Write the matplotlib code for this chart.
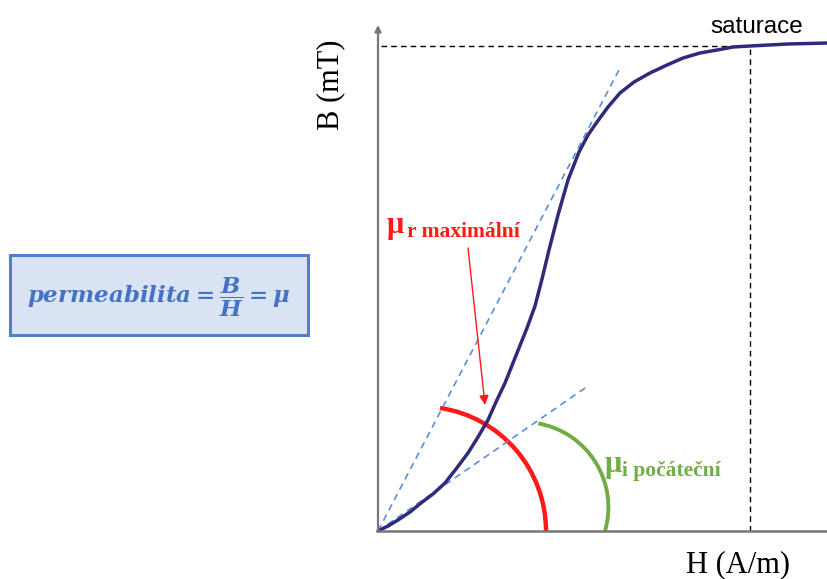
import numpy as np
import matplotlib
matplotlib.use("Agg")
import matplotlib.pyplot as plt
from matplotlib.patches import Arc, FancyBboxPatch

plt.rcParams['mathtext.fontset'] = 'custom'
plt.rcParams['mathtext.it'] = 'DejaVu Serif:italic:bold'
plt.rcParams['mathtext.rm'] = 'DejaVu Serif:bold'

# magnetisation curve B(H), arbitrary units
H = [0, 10, 20, 32, 43, 55, 67, 78, 90, 100, 110, 118, 127, 139, 149, 157,
     164, 171, 180, 190, 201, 210, 219, 230, 242, 256, 272, 289, 305, 322,
     339, 355, 372, 410, 450]
B = [0, 5, 11, 19, 28, 37, 48, 62, 78, 94, 111, 129, 148, 178, 203, 225,
     252, 281, 316, 351, 379, 396, 409, 424, 438, 449, 458, 466, 473, 478,
     481, 484, 485, 487, 488]

# tangent lines from origin (end points)
mu_max_line = (242, 463)
mu_init_line = (210, 145)

# saturation point
H_sat, B_sat = 372, 485

# angle arcs: centre, radius, angles
red_arc = dict(c=(43.6, 0), r=124.4, t1=0, t2=81.5)
green_arc = dict(c=(145.3, 23.8), r=85.1, t1=-16.2, t2=79.9)

# arrow to the max permeability point
arrow_from = (90, 283)
arrow_to = (107, 126)

navy = '#2f2a7a'
dash_blue = '#5b8fd4'
red = '#ff1a1a'
green = '#70ad47'

fig = plt.figure(figsize=(8.28, 5.79), dpi=100)
ax = fig.add_axes([378/828, 48/579, 450/828, 506/579])
ax.set_xlim(0, 450)
ax.set_ylim(0, 506)
for s in ['top', 'right', 'left']:
    ax.spines[s].set_visible(False)
ax.spines['bottom'].set_color('#777777')
ax.spines['bottom'].set_linewidth(1.8)
ax.set_xticks([])
ax.set_yticks([])
ax.annotate('', xy=(0, 506), xytext=(0, -1), annotation_clip=False,
            arrowprops=dict(arrowstyle='-|>', color='#777777', lw=1.6,
                            mutation_scale=9, shrinkA=0, shrinkB=0))

# tangents
ax.plot([0, mu_max_line[0]], [0, mu_max_line[1]], ls=(0, (4, 3)), color=dash_blue, lw=1.2)
ax.plot([0, mu_init_line[0]], [0, mu_init_line[1]], ls=(0, (4, 3)), color=dash_blue, lw=1.2)

# saturation guides
ax.plot([3, H_sat], [B_sat, B_sat], ls=(0, (4, 3)), color='black', lw=1.0)
ax.plot([H_sat, H_sat], [0, B_sat], ls=(0, (4, 3)), color='black', lw=1.0)

# curve
ax.plot(H, B, color=navy, lw=2.5, solid_joinstyle='round', solid_capstyle='round', clip_on=False)

# arcs
ax.add_patch(Arc(red_arc['c'], 2*red_arc['r'], 2*red_arc['r'],
                 theta1=red_arc['t1'], theta2=red_arc['t2'], color=red, lw=3.2))
ax.add_patch(Arc(green_arc['c'], 2*green_arc['r'], 2*green_arc['r'],
                 theta1=green_arc['t1'], theta2=green_arc['t2'], color=green, lw=2.8))

ax.annotate('', xy=arrow_to, xytext=arrow_from,
            arrowprops=dict(arrowstyle='-|>', color=red, lw=1.0,
                            mutation_scale=14, shrinkA=0, shrinkB=0))

# labels
serif = 'Liberation Serif'
ax.text(9, 298, 'μ', color=red, fontsize=22, fontweight='bold', family=serif, va='baseline')
ax.text(29, 294, 'r maximální', color=red, fontsize=15.5, fontweight='bold', family=serif, va='baseline')
ax.text(227, 59, 'μ', color=green, fontsize=22, fontweight='bold', family=serif, va='baseline')
ax.text(244, 55, 'i počáteční', color=green, fontsize=15.5, fontweight='bold', family=serif, va='baseline')
ax.text(H_sat - 40, B_sat + 13, 'saturace', fontsize=17.5, family='Liberation Sans', va='baseline')

fig.text(686/828, 1 - 572/579, 'H (A/m)', fontsize=22, family=serif, va='baseline')
fig.text(345/828, 1 - 130/579, 'B (mT)', fontsize=22, family=serif, rotation=90,
         va='bottom', ha='right')

# formula box
box = FancyBboxPatch((10/828, 1 - 335/579), 298/828, 80/579, boxstyle='square,pad=0',
                     transform=fig.transFigure, facecolor='#dae3f3', edgecolor='#4f7fcf', lw=2.2)
fig.patches.append(box)
fig.text(159/828, 1 - 297/579, r'$permeabilita=\dfrac{B}{H}=\mu$', color='#4472c4',
         fontsize=16.5, ha='center', va='center')

fig.savefig('out.png', dpi=100)
